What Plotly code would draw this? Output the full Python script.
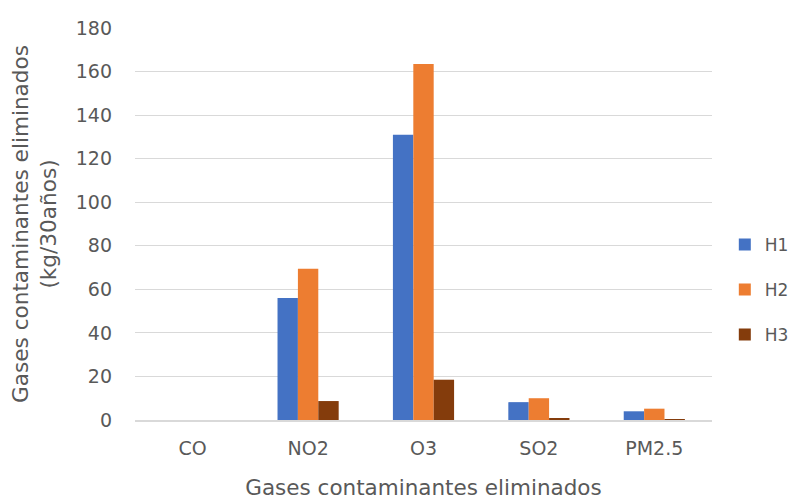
import plotly.graph_objects as go

categories = ["CO", "NO2", "O3", "SO2", "PM2.5"]
h1 = [0, 56, 131, 8.2, 4]
h2 = [0, 69.5, 163.5, 10, 5.2]
h3 = [0, 8.7, 18.5, 0.6, 0.4]
y_ticks = [0, 20, 40, 60, 80, 100, 120, 140, 160, 180]

series = [("H1", h1, "#4472C4"), ("H2", h2, "#ED7D31"), ("H3", h3, "#843C0C")]

fig = go.Figure()
for i, (name, vals, col) in enumerate(series):
    fig.add_trace(go.Bar(x=categories, y=vals, name=name, marker_color=col,
                         marker_line_width=0, legendgroup=name))

font_family = "DejaVu Sans, sans-serif"
fig.update_layout(
    width=790, height=500,
    margin=dict(l=127, r=86, t=20, b=88, autoexpand=False),
    paper_bgcolor="white", plot_bgcolor="white",
    barmode="group", bargap=0.47, bargroupgap=0,
    font=dict(family=font_family, color="#595959", size=19),
    legend=dict(x=1.0222, xanchor="left", y=0.332, yanchor="middle",
                font=dict(size=17, color="#595959"), tracegroupgap=20,
                traceorder="grouped", itemwidth=30),
    xaxis=dict(title=dict(text="Gases contaminantes eliminados", font=dict(size=21.5), standoff=22),
               tickfont=dict(size=19), showline=True, linecolor="#d9d9d9", linewidth=1.5,
               ticks="", ticklabelstandoff=10, automargin=False),
    yaxis=dict(title=dict(text="Gases contaminantes eliminados<br>(kg/30años)", font=dict(size=21.6), standoff=17),
               range=[0, 180], tickvals=y_ticks, tickfont=dict(size=19),
               showgrid=True, gridcolor="#d9d9d9", gridwidth=1, zeroline=False,
               showline=False, ticks="", ticklabelstandoff=22, automargin=False),
)

fig.write_html("out.html")
